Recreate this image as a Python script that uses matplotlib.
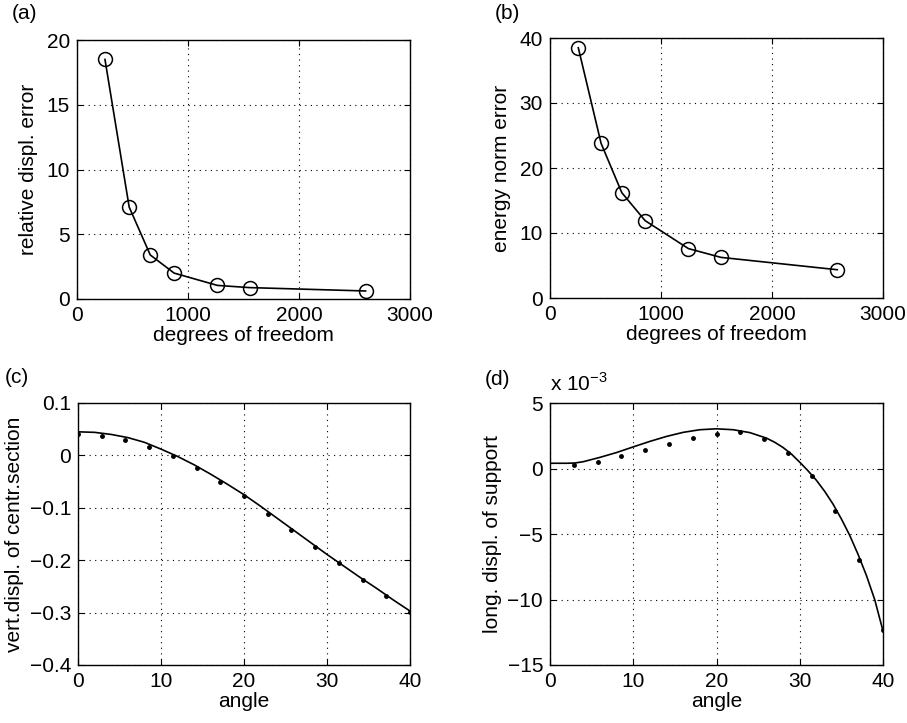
import numpy as np
import matplotlib
matplotlib.use("Agg")
import matplotlib.pyplot as plt

plt.rcParams['font.family'] = ['Liberation Sans', 'DejaVu Sans']
plt.rcParams['font.size'] = 15
plt.rcParams['mathtext.fontset'] = 'custom'
plt.rcParams['mathtext.rm'] = 'Liberation Sans'

# (a) and (b): convergence with degrees of freedom
dof = [252, 470, 660, 875, 1265, 1555, 2600]
rel_displ_err = [18.5, 7.1, 3.4, 2.0, 1.05, 0.88, 0.62]
dof_b = [255, 460, 647, 857, 1247, 1540, 2588]
energy_err = [38.5, 23.8, 16.2, 11.9, 7.6, 6.25, 4.35]

# (c) vertical displacement of central section vs angle
angle_line = [0, 2, 4, 6, 8, 10, 12, 14, 16, 18, 20, 22, 24, 26, 28, 30, 32, 34, 36, 38, 40]
vert_line = [0.045, 0.044, 0.040, 0.034, 0.025, 0.012, -0.002, -0.018, -0.036, -0.055,
             -0.075, -0.097, -0.120, -0.143, -0.166, -0.189, -0.211, -0.233, -0.254,
             -0.276, -0.297]
angle_dots = [0, 2.86, 5.71, 8.57, 11.43, 14.29, 17.14, 20, 22.86, 25.71, 28.57,
              31.43, 34.29, 37.14, 40]
vert_dots = [0.0414, 0.0376, 0.030, 0.0153, -0.0019, -0.0242, -0.051, -0.078,
             -0.111, -0.143, -0.175, -0.206, -0.238, -0.268, -0.298]

# (d) longitudinal displacement of support, in units of 1e-3
angle_line_d = [0, 2, 3, 4, 6, 8, 10, 12, 14, 16, 18, 20, 22, 24, 26, 27, 28, 29, 30,
                31, 32, 33, 34, 35, 36, 37, 38, 39, 40]
long_line = [0.40, 0.40, 0.42, 0.52, 0.85, 1.22, 1.65, 2.07, 2.45, 2.76, 2.96, 3.03,
             2.96, 2.74, 2.32, 2.00, 1.60, 1.10, 0.48, -0.18, -0.90, -1.75, -2.72,
             -3.85, -5.10, -6.55, -8.15, -10.0, -12.4]
angle_dots_d = [2.86, 5.71, 8.57, 11.43, 14.29, 17.14, 20, 22.86, 25.71, 28.57,
                31.43, 34.29, 37.14, 40]
long_dots = [0.27, 0.53, 0.96, 1.39, 1.90, 2.36, 2.66, 2.80, 2.22, 1.22, -0.55,
             -3.22, -7.0, -12.3]

fig = plt.figure(figsize=(9.07, 7.23), dpi=100)
W, H = 907.0, 723.0


def make_axes(left, top, right, bottom):
    return fig.add_axes([left / W, 1 - bottom / H, (right - left) / W, (bottom - top) / H])


def style(ax):
    ax.grid(True, color='black', linestyle=(0, (1, 4)), linewidth=0.8)
    ax.tick_params(direction='in', top=True, right=True, length=4, width=0.8,
                   labelsize=15, pad=5)
    for s in ax.spines.values():
        s.set_linewidth(1.0)


ax_a = make_axes(77, 40, 410, 299)
ax_a.plot(dof, rel_displ_err, '-o', color='black', lw=1.2, ms=10, mfc='none', mew=1.1)
ax_a.set_xlim(0, 3000)
ax_a.set_ylim(0, 20)
ax_a.set_xticks([0, 1000, 2000, 3000])
ax_a.set_yticks([0, 5, 10, 15, 20])
ax_a.set_xlabel('degrees of freedom', labelpad=1)
ax_a.set_ylabel('relative displ. error', labelpad=6)
style(ax_a)

ax_b = make_axes(550, 38, 883, 298)
ax_b.plot(dof_b, energy_err, '-o', color='black', lw=1.2, ms=10, mfc='none', mew=1.1)
ax_b.set_xlim(0, 3000)
ax_b.set_ylim(0, 40)
ax_b.set_xticks([0, 1000, 2000, 3000])
ax_b.set_yticks([0, 10, 20, 30, 40])
ax_b.set_xlabel('degrees of freedom', labelpad=1)
ax_b.set_ylabel('energy norm error', labelpad=6)
style(ax_b)

ax_c = make_axes(78, 403, 410, 665)
ax_c.plot(angle_line, vert_line, '-', color='black', lw=1.2)
ax_c.plot(angle_dots, vert_dots, 'o', color='black', ms=2.5)
ax_c.set_xlim(0, 40)
ax_c.set_ylim(-0.4, 0.1)
ax_c.set_xticks([0, 10, 20, 30, 40])
ax_c.set_yticks([-0.4, -0.3, -0.2, -0.1, 0, 0.1])
ax_c.set_yticklabels(['\u22120.4', '\u22120.3', '\u22120.2', '\u22120.1', '0', '0.1'])
ax_c.set_xlabel('angle', labelpad=1)
ax_c.set_ylabel('vert.displ. of centr.section', labelpad=4)
style(ax_c)

ax_d = make_axes(550, 403, 883, 665)
ax_d.plot(angle_line_d, long_line, '-', color='black', lw=1.2)
ax_d.plot(angle_dots_d, long_dots, 'o', color='black', ms=2.5)
ax_d.set_xlim(0, 40)
ax_d.set_ylim(-15, 5)
ax_d.set_xticks([0, 10, 20, 30, 40])
ax_d.set_yticks([-15, -10, -5, 0, 5])
ax_d.set_yticklabels(['\u221215', '\u221210', '\u22125', '0', '5'])
ax_d.set_xlabel('angle', labelpad=1)
ax_d.set_ylabel('long. displ. of support', labelpad=4)
ax_d.text(0.0, 1.03, 'x 10$^{-3}$', transform=ax_d.transAxes, fontsize=15,
          ha='left', va='bottom')
style(ax_d)

for lab, (px, py) in zip(['(a)', '(b)', '(c)', '(d)'],
                         [(12, 4), (495, 4), (5, 368), (485, 370)]):
    fig.text(px / W, 1 - py / H, lab, fontsize=15, ha='left', va='top')

fig.savefig('out.png', dpi=100)
